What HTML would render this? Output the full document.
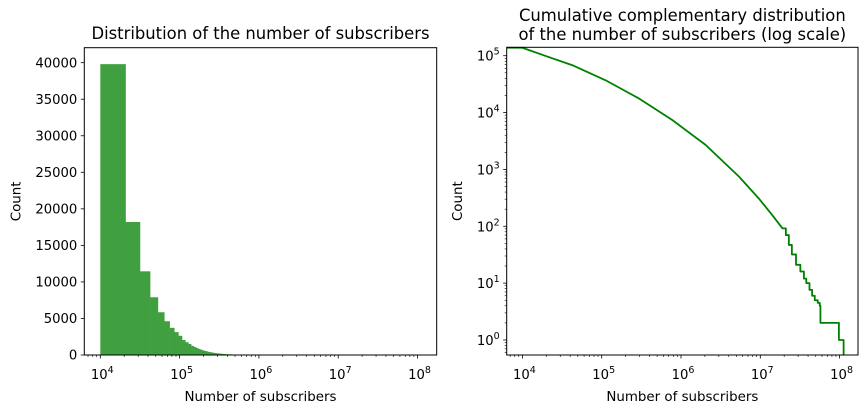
<!DOCTYPE html>
<html><head><meta charset="utf-8"><style>
html,body{margin:0;padding:0;background:#fff;}
svg{display:block;font-family:"DejaVu Sans","Liberation Sans",sans-serif;}
</style></head><body>
<svg id="fig" width="868" height="413" viewBox="0 0 868 413" xmlns="http://www.w3.org/2000/svg"></svg>
<script>
// ---- Left histogram data ----
const histStart = 10000;
const histBinWidth = 10800;
const histCounts = [39800,18200,11450,7900,5850,4620,3720,3130,2630,2050,1750,1500,1250,1100,950,820,720,630,560,500,440,400,360,320,290,260,240,215,195,180,165,150,140,130,120,110,100,95,90,85,80,75,70,65,60,56,52,48,45,42,40,38,36,34,32,30,28,26,24,22,20,19,18,17,16,15,14,13,12,11,10,9,8,7,6,5,5,4,4,3];
const histYTicks = [0,5000,10000,15000,20000,25000,30000,35000,40000];
const logXTicks = [4,5,6,7,8];
// ---- Right CCDF data ----
const ccdfX = [1e4,2e4,4.27e4,1.12e5,2.95e5,7.76e5,2.04e6,5.37e6,9.55e6,1.41e7,1.9e7,2.1e7,2.29e7,2.5e7,2.82e7,3.2e7,3.55e7,3.8e7,4.17e7,4.5e7,4.86e7,5.3e7,5.62e7,5.73e7,9.8e7,1.07e8];
const ccdfY = [138000,98000,68000,37000,17700,7400,2700,750,310,158,92,70,47,32,21,16,12,10,7.6,6,5,4.5,4,2,1,1];
const ccdfYTicks = [0,1,2,3,4,5];
const ccdfStepFrom = 2.0e7; // beyond this x the curve is drawn as steps

const NS="http://www.w3.org/2000/svg";
const svg=document.getElementById('fig');
function el(tag,attrs,parent){const e=document.createElementNS(NS,tag);for(const k in attrs)e.setAttribute(k,attrs[k]);(parent||svg).appendChild(e);return e;}

// ---------- Left axes ----------
const L={x0:84.3,x1:436.7,y0:47.7,y1:355};
const lxMin=3.798,lxMax=3.798+(L.x1-L.x0)/79.3;
const lyMax=42050;
function lx(v){return L.x0+(Math.log10(v)-lxMin)/(lxMax-lxMin)*(L.x1-L.x0);}
function ly(v){return L.y1-v/lyMax*(L.y1-L.y0);}
const gL=el('g',{});


for(let i=0;i<histCounts.length;i++){
  const a=histStart+i*histBinWidth,b=a+histBinWidth;
  const x=lx(a),w=lx(b)-x,y=ly(histCounts[i]);
  const r=el('rect',{x:x,y:y,width:w+0.3,height:L.y1-y,fill:'#40a040'},gL);
  
  
}
el('rect',{x:L.x0,y:L.y0,width:L.x1-L.x0,height:L.y1-L.y0,fill:'none',stroke:'#000','stroke-width':1},gL);
histYTicks.forEach(t=>{
  const y=ly(t);
  el('line',{x1:L.x0-3.5,x2:L.x0,y1:y,y2:y,stroke:'#000','stroke-width':0.8},gL);
  const tx=el('text',{x:L.x0-7,y:y+4.7,'text-anchor':'end','font-size':13.2,fill:'#000'},gL);
  tx.textContent=t;
  
  
});
function logTicks(g,fx,yb,minV,maxV){
  for(let d=Math.floor(minV);d<=Math.ceil(maxV);d++){
    for(let m=1;m<10;m++){
      const lv=d+Math.log10(m);if(lv<minV||lv>maxV)continue;
      const x=fx(Math.pow(10,lv));
      el('line',{x1:x,x2:x,y1:yb,y2:yb+(m===1?3.5:2),stroke:'#000','stroke-width':m===1?0.8:0.6},g);
    }
  }
}
logTicks(gL,lx,L.y1,lxMin,lxMax);
function expLabel(g,x,y,e,anchor,name){
  const t=el('text',{x:x,y:y,'text-anchor':anchor,'font-size':13.2,fill:'#000'},g);
  
  
  t.appendChild(document.createTextNode('10'));
  const s=el('tspan',{dy:-6,'font-size':9.5},t);s.textContent=e;
  return t;
}
logXTicks.forEach(e=>{expLabel(gL,lx(Math.pow(10,e))+2,L.y1+24,e,'middle','x-tick-label');});
let t=el('text',{x:(L.x0+L.x1)/2,y:39,'text-anchor':'middle','font-size':16.4},gL);t.textContent='Distribution of the number of subscribers';

t=el('text',{x:(L.x0+L.x1)/2,y:401,'text-anchor':'middle','font-size':13.4},gL);t.textContent='Number of subscribers';

t=el('text',{x:20.5,y:(L.y0+L.y1)/2,'text-anchor':'middle','font-size':13.4,transform:'rotate(-90 20.5 '+((L.y0+L.y1)/2)+')'},gL);t.textContent='Count';


// ---------- Right axes ----------
const R={x0:506.7,x1:858,y0:47.3,y1:355};
const rxMin=3.802,rxMax=3.802+(R.x1-R.x0)/79.3;
const ryMin=-0.264,ryMax=5.148;
function rx(v){return R.x0+(Math.log10(v)-rxMin)/(rxMax-rxMin)*(R.x1-R.x0);}
function ry(v){return R.y1-(Math.log10(v)-ryMin)/(ryMax-ryMin)*(R.y1-R.y0);}
const gR=el('g',{});


let d='M'+R.x0+','+ry(ccdfY[0])+' L'+rx(ccdfX[0])+','+ry(ccdfY[0]);
for(let i=1;i<ccdfX.length;i++){
  const x=rx(ccdfX[i]),y=ry(ccdfY[i]);
  if(ccdfX[i]>ccdfStepFrom){d+=' L'+x+','+ry(ccdfY[i-1])+' L'+x+','+y;}
  else d+=' L'+x+','+y;
}
const lastX=rx(ccdfX[ccdfX.length-1]*1.05);
d+=' L'+lastX+','+ry(ccdfY[ccdfY.length-1])+' L'+lastX+','+R.y1;
const cl=el('path',{d:d,fill:'none',stroke:'#008000','stroke-width':1.8,'stroke-linejoin':'round'},gR);


el('rect',{x:R.x0,y:R.y0,width:R.x1-R.x0,height:R.y1-R.y0,fill:'none',stroke:'#000','stroke-width':1},gR);
logTicks(gR,rx,R.y1,rxMin,rxMax);
for(let dd=-1;dd<=5;dd++){for(let m=1;m<10;m++){const lv=dd+Math.log10(m);if(lv<ryMin||lv>ryMax)continue;const y=ry(Math.pow(10,lv));
  el('line',{x1:R.x0-(m===1?3.5:2),x2:R.x0,y1:y,y2:y,stroke:'#000','stroke-width':m===1?0.8:0.6},gR);}}
ccdfYTicks.forEach(e=>{expLabel(gR,R.x0-7,ry(Math.pow(10,e))+5,e,'end','y-tick-label');});
logXTicks.forEach(e=>{expLabel(gR,rx(Math.pow(10,e))+2,R.y1+24,e,'middle','x-tick-label');});
t=el('text',{x:(R.x0+R.x1)/2,y:21,'text-anchor':'middle','font-size':16.4},gR);t.textContent='Cumulative complementary distribution';

t=el('text',{x:(R.x0+R.x1)/2,y:40,'text-anchor':'middle','font-size':16.4},gR);t.textContent='of the number of subscribers (log scale)';

t=el('text',{x:(R.x0+R.x1)/2,y:401,'text-anchor':'middle','font-size':13.4},gR);t.textContent='Number of subscribers';

t=el('text',{x:462,y:(R.y0+R.y1)/2,'text-anchor':'middle','font-size':13.4,transform:'rotate(-90 462 '+((R.y0+R.y1)/2)+')'},gR);t.textContent='Count';

</script>
</body></html>
